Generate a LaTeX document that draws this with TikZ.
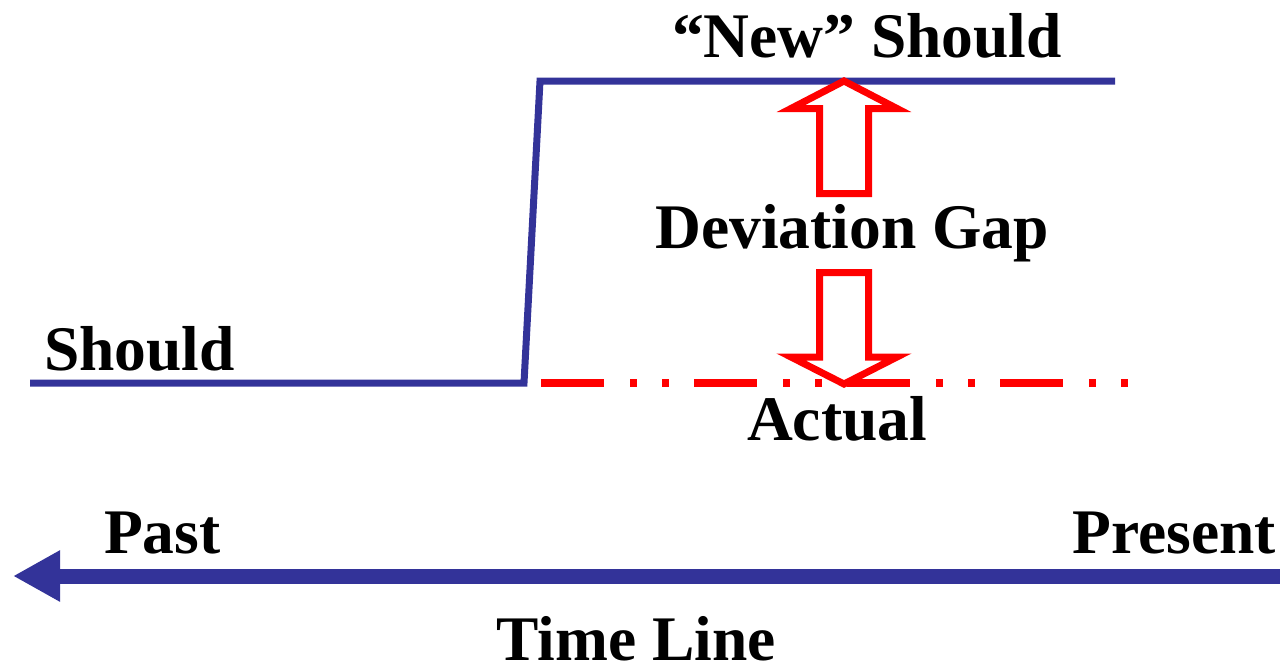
\documentclass[tikz,border=0pt]{standalone}
\usepackage{fontspec}
\setmainfont{Liberation Serif}
\usetikzlibrary{arrows.meta}
\definecolor{lineblue}{HTML}{333399}
\definecolor{gapred}{HTML}{FF0000}
\tikzset{
  lbl/.style={inner sep=0pt, font=\fontsize{63.5}{63.5}\selectfont\bfseries, text=black},
  shouldline/.style={draw=lineblue, line width=7pt, miter limit=10, line join=miter},
  actualline/.style={draw=gapred, line width=8pt, dash pattern=on 63pt off 26pt on 7pt off 25pt on 7pt off 25pt},
  blockarrow/.style={draw=gapred, line width=7pt, line join=miter, miter limit=10},
  timeline/.style={draw=lineblue, line width=15pt, -{Triangle[length=47pt,width=48pt]}}
}
\begin{document}
\begin{tikzpicture}[x=1pt,y=-1pt]
\useasboundingbox (0,0) rectangle (1280,667);
% coordinates
\coordinate (s0) at (30,383);
\coordinate (s1) at (524,383);
\coordinate (s2) at (540,81);
\coordinate (s3) at (1115,81);
\coordinate (a0) at (541,383);
\coordinate (a1) at (1128,383);
\coordinate (tpresent) at (1280,576);
\coordinate (tpast) at (13,576);
% lines
\draw[shouldline] (s0) -- (s1) -- (s2) -- (s3);
\draw[actualline] (a0) -- (a1);
% block arrows
\draw[blockarrow] (844,81) -- (897,108.5) -- (868.5,108.5) -- (868.5,193.5) -- (819.5,193.5) -- (819.5,108.5) -- (791,108.5) -- cycle;
\draw[blockarrow] (844,384) -- (897,357) -- (868.5,357) -- (868.5,272.5) -- (819.5,272.5) -- (819.5,357) -- (791,357) -- cycle;
% time line
\draw[timeline] (tpresent) -- (tpast);
% labels
\node[lbl, anchor=base] (newshould) at (867,57) {“New” Should};
\node[lbl, anchor=base] (gap) at (852,248) {Deviation Gap};
\node[lbl, anchor=base west] (should) at (44,370) {Should};
\node[lbl, anchor=base] (actual) at (837,440) {Actual};
\node[lbl, anchor=base west] (past) at (104,553) {Past};
\node[lbl, anchor=base east] (present) at (1276,553) {Present};
\node[lbl, anchor=base] (tl) at (636,660) {Time Line};
\end{tikzpicture}
\end{document}
